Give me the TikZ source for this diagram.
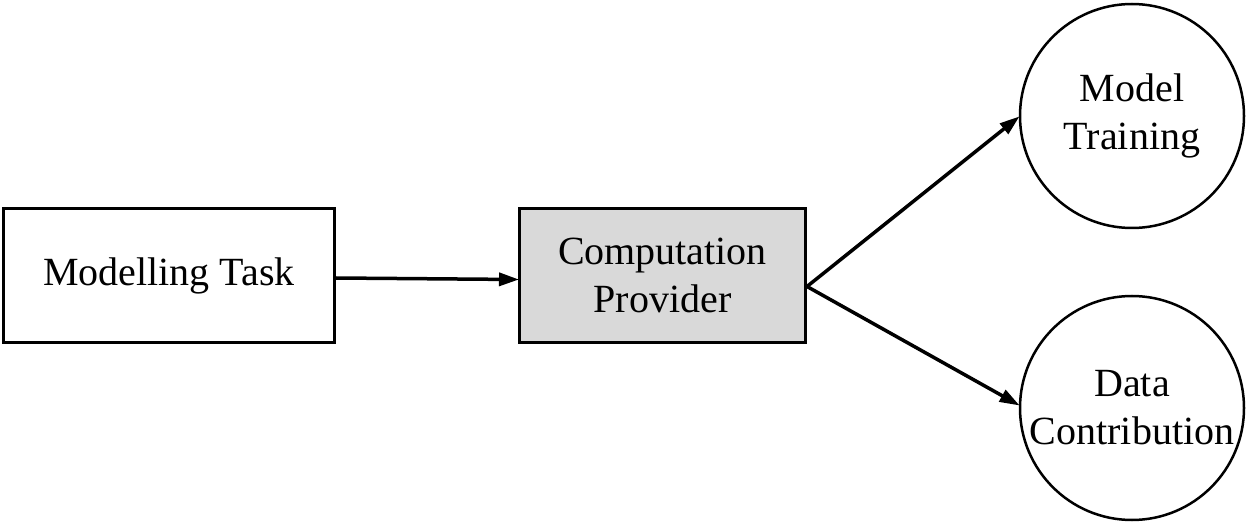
\documentclass[tikz,border=0pt]{standalone}
\usepackage{fontspec}
\setmainfont{Liberation Serif}
\usetikzlibrary{arrows.meta}
\definecolor{boxgray}{HTML}{D9D9D9}
\begin{document}
\begin{tikzpicture}[x=1pt,y=-1pt,
  every node/.style={font=\fontsize{40}{48}\selectfont, align=center, inner sep=0pt},
  taskbox/.style={draw=black, line width=3pt, rectangle},
  stagecircle/.style={draw=black, line width=2.5pt, circle, minimum size=224pt},
  conn/.style={line width=3.5pt, -{Triangle[length=20pt,width=13pt]}, shorten >=-1pt}
]
\useasboundingbox (0,0) rectangle (1259,529);
\node[taskbox, minimum width=331pt, minimum height=134pt] (mt) at (169,275.5) {Modelling Task};
\node[taskbox, fill=boxgray, minimum width=286pt, minimum height=134pt] (cp) at (662.5,275.5) {Computation\\Provider};
\node[stagecircle] (tr) at (1132,116) {};
\node at (tr.center) {Model\\Training};
\node[stagecircle] (dc) at (1132,408) {};
\node at (dc.center) {Data\\Contribution};
\coordinate (cpout) at ([yshift=-11pt]cp.east);
\coordinate (mtout) at ([yshift=-2.5pt]mt.east);
\coordinate (cpin) at ([yshift=-4pt]cp.west);
\draw[conn] (mtout) -- (cpin);
\draw[conn] (cpout) -- (tr.west |- 0,117) ;
\draw[conn] (cpout) -- (dc.west |- 0,405);
\end{tikzpicture}
\end{document}
